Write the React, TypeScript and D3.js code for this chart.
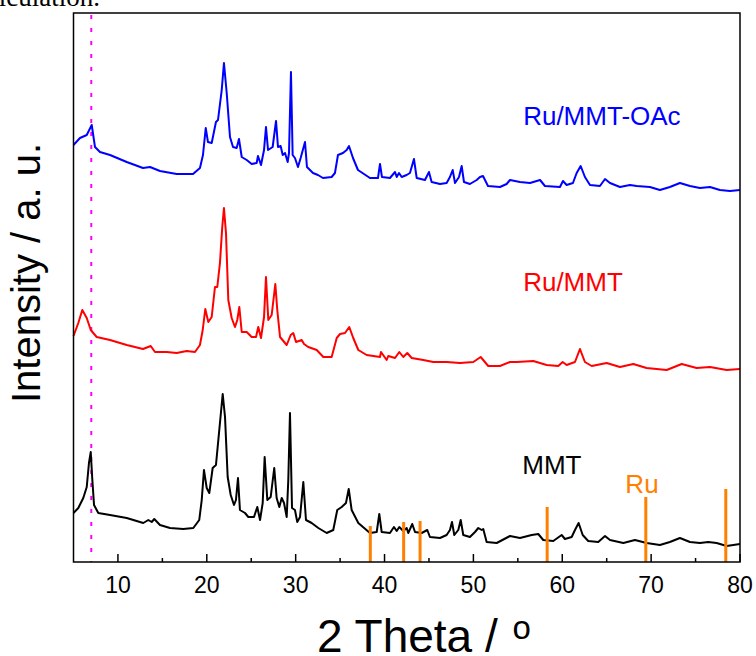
import React, { useRef, useEffect } from "react";
import * as d3 from "d3";

// XRD patterns, [2theta, intensity (a.u., stacked)]
const ruMmtOAc: [number, number][] = [
  [5.0, 417], [5.73, 424], [6.49, 427], [7.05, 437], [7.42, 415], [7.98, 410], [9.11, 407],
  [10.99, 400], [12.82, 394], [13.61, 395], [14.73, 391], [16.61, 388], [18.45, 388], [19.23, 394],
  [19.57, 407], [19.88, 434], [20.13, 420], [20.55, 419], [21.03, 440], [21.26, 442], [21.68, 472],
  [21.93, 499], [22.24, 469], [22.61, 425], [22.95, 415], [23.36, 414], [23.62, 423], [23.93, 405],
  [24.49, 402], [25.05, 398], [25.61, 399], [25.76, 406], [26.1, 397], [26.44, 412], [26.66, 435],
  [26.89, 412], [27.41, 415], [27.79, 441], [28.01, 415], [28.31, 416], [28.54, 407], [28.8, 409],
  [29.1, 400], [29.25, 409], [29.47, 490], [29.66, 407], [29.92, 404], [30.26, 395], [30.56, 404],
  [31.05, 420], [31.27, 395], [31.95, 389], [32.51, 387], [33.07, 384], [34.05, 385], [34.42, 389],
  [34.76, 407], [35.32, 409], [35.74, 412], [36.0, 416], [36.45, 404], [37.01, 392], [38.36, 384],
  [39.26, 384], [39.49, 398], [39.71, 385], [40.61, 384], [41.18, 390], [41.37, 385], [41.63, 389],
  [41.93, 385], [42.49, 387], [42.86, 389], [43.31, 403], [43.62, 384], [44.55, 382], [45.0, 390],
  [45.3, 380], [46.24, 378], [46.99, 379], [47.36, 385], [47.67, 392], [47.93, 379], [48.38, 385],
  [48.68, 396], [48.94, 380], [49.61, 378], [50.37, 382], [50.74, 385], [51.08, 386], [51.64, 376],
  [52.99, 375], [53.74, 378], [54.12, 382], [55.24, 380], [56.37, 379], [57.5, 382], [58.05, 376],
  [59.74, 375], [60.08, 381], [60.49, 377], [61.2, 379], [61.62, 389], [62.07, 396], [62.55, 385],
  [63.12, 377], [64.24, 376], [64.81, 383], [65.37, 379], [66.49, 375], [67.62, 377], [68.37, 376],
  [69.86, 375], [70.99, 372], [72.11, 375], [73.24, 379], [74.37, 376], [75.49, 374], [76.62, 375],
  [77.74, 372], [78.87, 371], [80.0, 372],
];

const ruMmt: [number, number][] = [
  [5.0, 226], [5.54, 239], [5.99, 252], [6.49, 244], [6.94, 232], [7.61, 225], [9.11, 222],
  [10.99, 217], [12.82, 213], [13.69, 216], [14.17, 210], [15.49, 210], [16.61, 209], [17.74, 211],
  [18.67, 210], [19.23, 217], [19.54, 232], [19.83, 253], [20.17, 240], [20.55, 245], [20.92, 275],
  [21.18, 275], [21.48, 299], [21.74, 335], [21.93, 354], [22.16, 329], [22.42, 262], [22.8, 244],
  [23.17, 235], [23.43, 242], [23.66, 255], [23.93, 230], [24.49, 230], [25.05, 225], [25.54, 225],
  [25.79, 235], [26.1, 224], [26.44, 245], [26.66, 285], [26.92, 242], [27.3, 247], [27.71, 278],
  [27.93, 252], [28.24, 225], [28.99, 217], [29.44, 227], [29.73, 229], [30.04, 220], [30.68, 222],
  [30.94, 218], [31.42, 215], [32.37, 212], [33.11, 205], [34.05, 205], [34.62, 224], [34.99, 228],
  [35.55, 229], [36.03, 235], [36.48, 224], [37.05, 212], [37.99, 207], [39.49, 205], [39.6, 210],
  [40.24, 202], [40.42, 206], [41.18, 204], [41.66, 210], [42.11, 205], [42.56, 209], [43.06, 204],
  [44.36, 202], [45.49, 200], [46.99, 200], [48.49, 199], [49.99, 200], [50.82, 205], [51.67, 196],
  [52.99, 196], [54.12, 200], [54.87, 200], [56.74, 201], [58.24, 197], [59.55, 196], [60.05, 200],
  [60.49, 197], [61.43, 200], [61.99, 213], [62.55, 200], [63.31, 196], [65.0, 199], [66.49, 195],
  [67.99, 198], [69.49, 194], [71.75, 192], [73.44, 198], [75.12, 194], [76.62, 195], [78.5, 192],
  [80.0, 193],
];

const mmt: [number, number][] = [
  [5.0, 49], [5.54, 54], [6.1, 64], [6.49, 75], [6.74, 99], [6.94, 110], [7.12, 82], [7.31, 57],
  [7.79, 49], [9.11, 47], [10.99, 44], [12.85, 39], [13.42, 42], [13.8, 40], [14.09, 43], [14.73, 37],
  [15.86, 34], [17.35, 33], [18.48, 34], [19.15, 42], [19.43, 62], [19.68, 92], [19.99, 74],
  [20.28, 69], [20.66, 94], [21.03, 97], [21.48, 139], [21.79, 168], [22.05, 145], [22.35, 85],
  [22.69, 67], [23.06, 57], [23.28, 62], [23.51, 84], [23.73, 52], [24.3, 49], [24.67, 45],
  [25.31, 45], [25.68, 55], [25.99, 42], [26.29, 59], [26.51, 105], [26.81, 62], [27.19, 65],
  [27.59, 94], [27.86, 64], [28.16, 55], [28.43, 64], [28.69, 59], [28.99, 45], [29.17, 82],
  [29.36, 149], [29.59, 54], [29.92, 52], [30.18, 40], [30.49, 45], [30.86, 80], [31.16, 42],
  [31.8, 39], [32.55, 34], [33.49, 29], [34.23, 32], [34.68, 52], [35.18, 55], [35.66, 59],
  [35.97, 73], [36.3, 52], [37.05, 39], [38.36, 29], [39.12, 30], [39.41, 48], [39.68, 30],
  [40.61, 29], [41.06, 35], [41.37, 31], [41.66, 35], [42.11, 31], [42.49, 34], [42.67, 29],
  [43.12, 38], [43.43, 30], [44.18, 29], [44.81, 32], [45.11, 25], [46.24, 24], [46.99, 27],
  [47.36, 32], [47.59, 40], [47.85, 27], [48.3, 32], [48.57, 42], [48.86, 27], [49.61, 25],
  [50.18, 30], [50.55, 34], [50.93, 32], [51.11, 33], [51.49, 20], [52.62, 19], [54.12, 26],
  [55.24, 24], [56.56, 27], [57.3, 28], [57.86, 22], [58.99, 21], [59.93, 27], [60.3, 23],
  [61.06, 25], [61.43, 32], [61.84, 39], [62.3, 27], [62.92, 21], [64.05, 20], [64.81, 26],
  [65.37, 22], [66.87, 19], [68.18, 22], [69.49, 19], [70.99, 17], [72.11, 20], [73.24, 24],
  [74.37, 20], [75.49, 19], [76.43, 20], [77.37, 19], [78.5, 16], [80.0, 18],
];

// Ru reference (hcp) positions and stick heights
const ruPos = [38.4, 42.15, 44.0, 58.3, 69.4, 78.4];
const ruHeight = [36, 40, 41, 55, 65, 73];

const series = [
  { name: "Ru/MMT-OAc", data: ruMmtOAc, color: "#0000ff", labelX: 55.6, labelY: 437 },
  { name: "Ru/MMT", data: ruMmt, color: "#ff0000", labelX: 55.6, labelY: 271 },
  { name: "MMT", data: mmt, color: "#000000", labelX: 55.5, labelY: 88 },
];

const xTicks = [10, 20, 30, 40, 50, 60, 70, 80];
const xMinor = [15, 25, 35, 45, 55, 65, 75];
const guideTheta = 7.0;

const W = 756;
const H = 656;
const margin = { left: 73.5, right: 16, top: 13, bottom: 94 };
const FONT = "Arial, 'Liberation Sans', sans-serif";

const App = () => {
  const ref = useRef<SVGSVGElement>(null);

  useEffect(() => {
    const svg = d3.select(ref.current);
    svg.selectAll("*").remove();

    const x = d3.scaleLinear().domain([5, 80]).range([margin.left, W - margin.right]);
    const y = d3.scaleLinear().domain([0, 549]).range([H - margin.bottom, margin.top]);
    const y0 = y(0);

    // cut-off caption text from the page above
    svg.append("text")
      .attr("x", 100).attr("y", 6)
      .attr("text-anchor", "end")
      .attr("font-family", "'Times New Roman', 'Liberation Serif', serif")
      .attr("font-size", 27)
      .text("calculation.");

    // guide line at low angle peak
    svg.append("line")
      .attr("x1", x(guideTheta)).attr("x2", x(guideTheta))
      .attr("y1", margin.top + 2).attr("y2", y0)
      .attr("stroke", "#ff00ff").attr("stroke-width", 2)
      .attr("stroke-dasharray", "4 9");

    const line = d3.line<[number, number]>()
      .x(d => x(d[0]))
      .y(d => y(d[1]));

    series.forEach(s => {
      svg.append("path")
        .attr("d", line(s.data))
        .attr("fill", "none")
        .attr("stroke", s.color)
        .attr("stroke-width", 2)
        .attr("stroke-linejoin", "round");
      svg.append("text")
        .attr("x", x(s.labelX)).attr("y", y(s.labelY))
        .attr("font-family", FONT).attr("font-size", 26)
        .attr("fill", s.color)
        .text(s.name);
    });

    // Ru sticks
    svg.selectAll(".ru")
      .data(ruPos)
      .join("line")
      .attr("x1", d => x(d)).attr("x2", d => x(d))
      .attr("y1", y0).attr("y2", (d, i) => y(ruHeight[i]))
      .attr("stroke", "#ff8000").attr("stroke-width", 3);
    svg.append("text")
      .attr("x", x(67.1)).attr("y", y(69))
      .attr("font-family", FONT).attr("font-size", 26)
      .attr("fill", "#ff8000")
      .text("Ru");

    // frame
    svg.append("rect")
      .attr("x", margin.left).attr("y", margin.top)
      .attr("width", W - margin.left - margin.right)
      .attr("height", y0 - margin.top)
      .attr("fill", "none").attr("stroke", "#000").attr("stroke-width", 1.5);

    // inward ticks
    svg.selectAll(".major")
      .data(xTicks)
      .join("line")
      .attr("x1", d => x(d)).attr("x2", d => x(d))
      .attr("y1", y0).attr("y2", y0 - 8)
      .attr("stroke", "#000").attr("stroke-width", 1.5);
    svg.selectAll(".minor")
      .data(xMinor)
      .join("line")
      .attr("x1", d => x(d)).attr("x2", d => x(d))
      .attr("y1", y0).attr("y2", y0 - 4)
      .attr("stroke", "#000").attr("stroke-width", 1.5);
    svg.selectAll(".ticklabel")
      .data(xTicks)
      .join("text")
      .attr("x", d => x(d)).attr("y", 593)
      .attr("text-anchor", "middle")
      .attr("font-family", FONT).attr("font-size", 23)
      .text(d => d);

    // axis titles
    const xt = svg.append("text")
      .attr("x", 317).attr("y", 652)
      .attr("font-family", FONT).attr("font-size", 46)
      .attr("xml:space", "preserve")
      .text("2 Theta / ");
    xt.append("tspan")
      .attr("font-size", 33)
      .attr("dx", 2)
      .attr("dy", -13)
      .text("o");

    svg.append("text")
      .attr("transform", "translate(40,273) rotate(-90)")
      .attr("text-anchor", "middle")
      .attr("font-family", FONT).attr("font-size", 40)
      .text("Intensity / a. u.");
  }, []);

  return (
    <div style={{ position: "absolute", left: 0, top: 0 }}>
      <svg ref={ref} width={W} height={H} style={{ display: "block" }} />
    </div>
  );
};

export default App;
